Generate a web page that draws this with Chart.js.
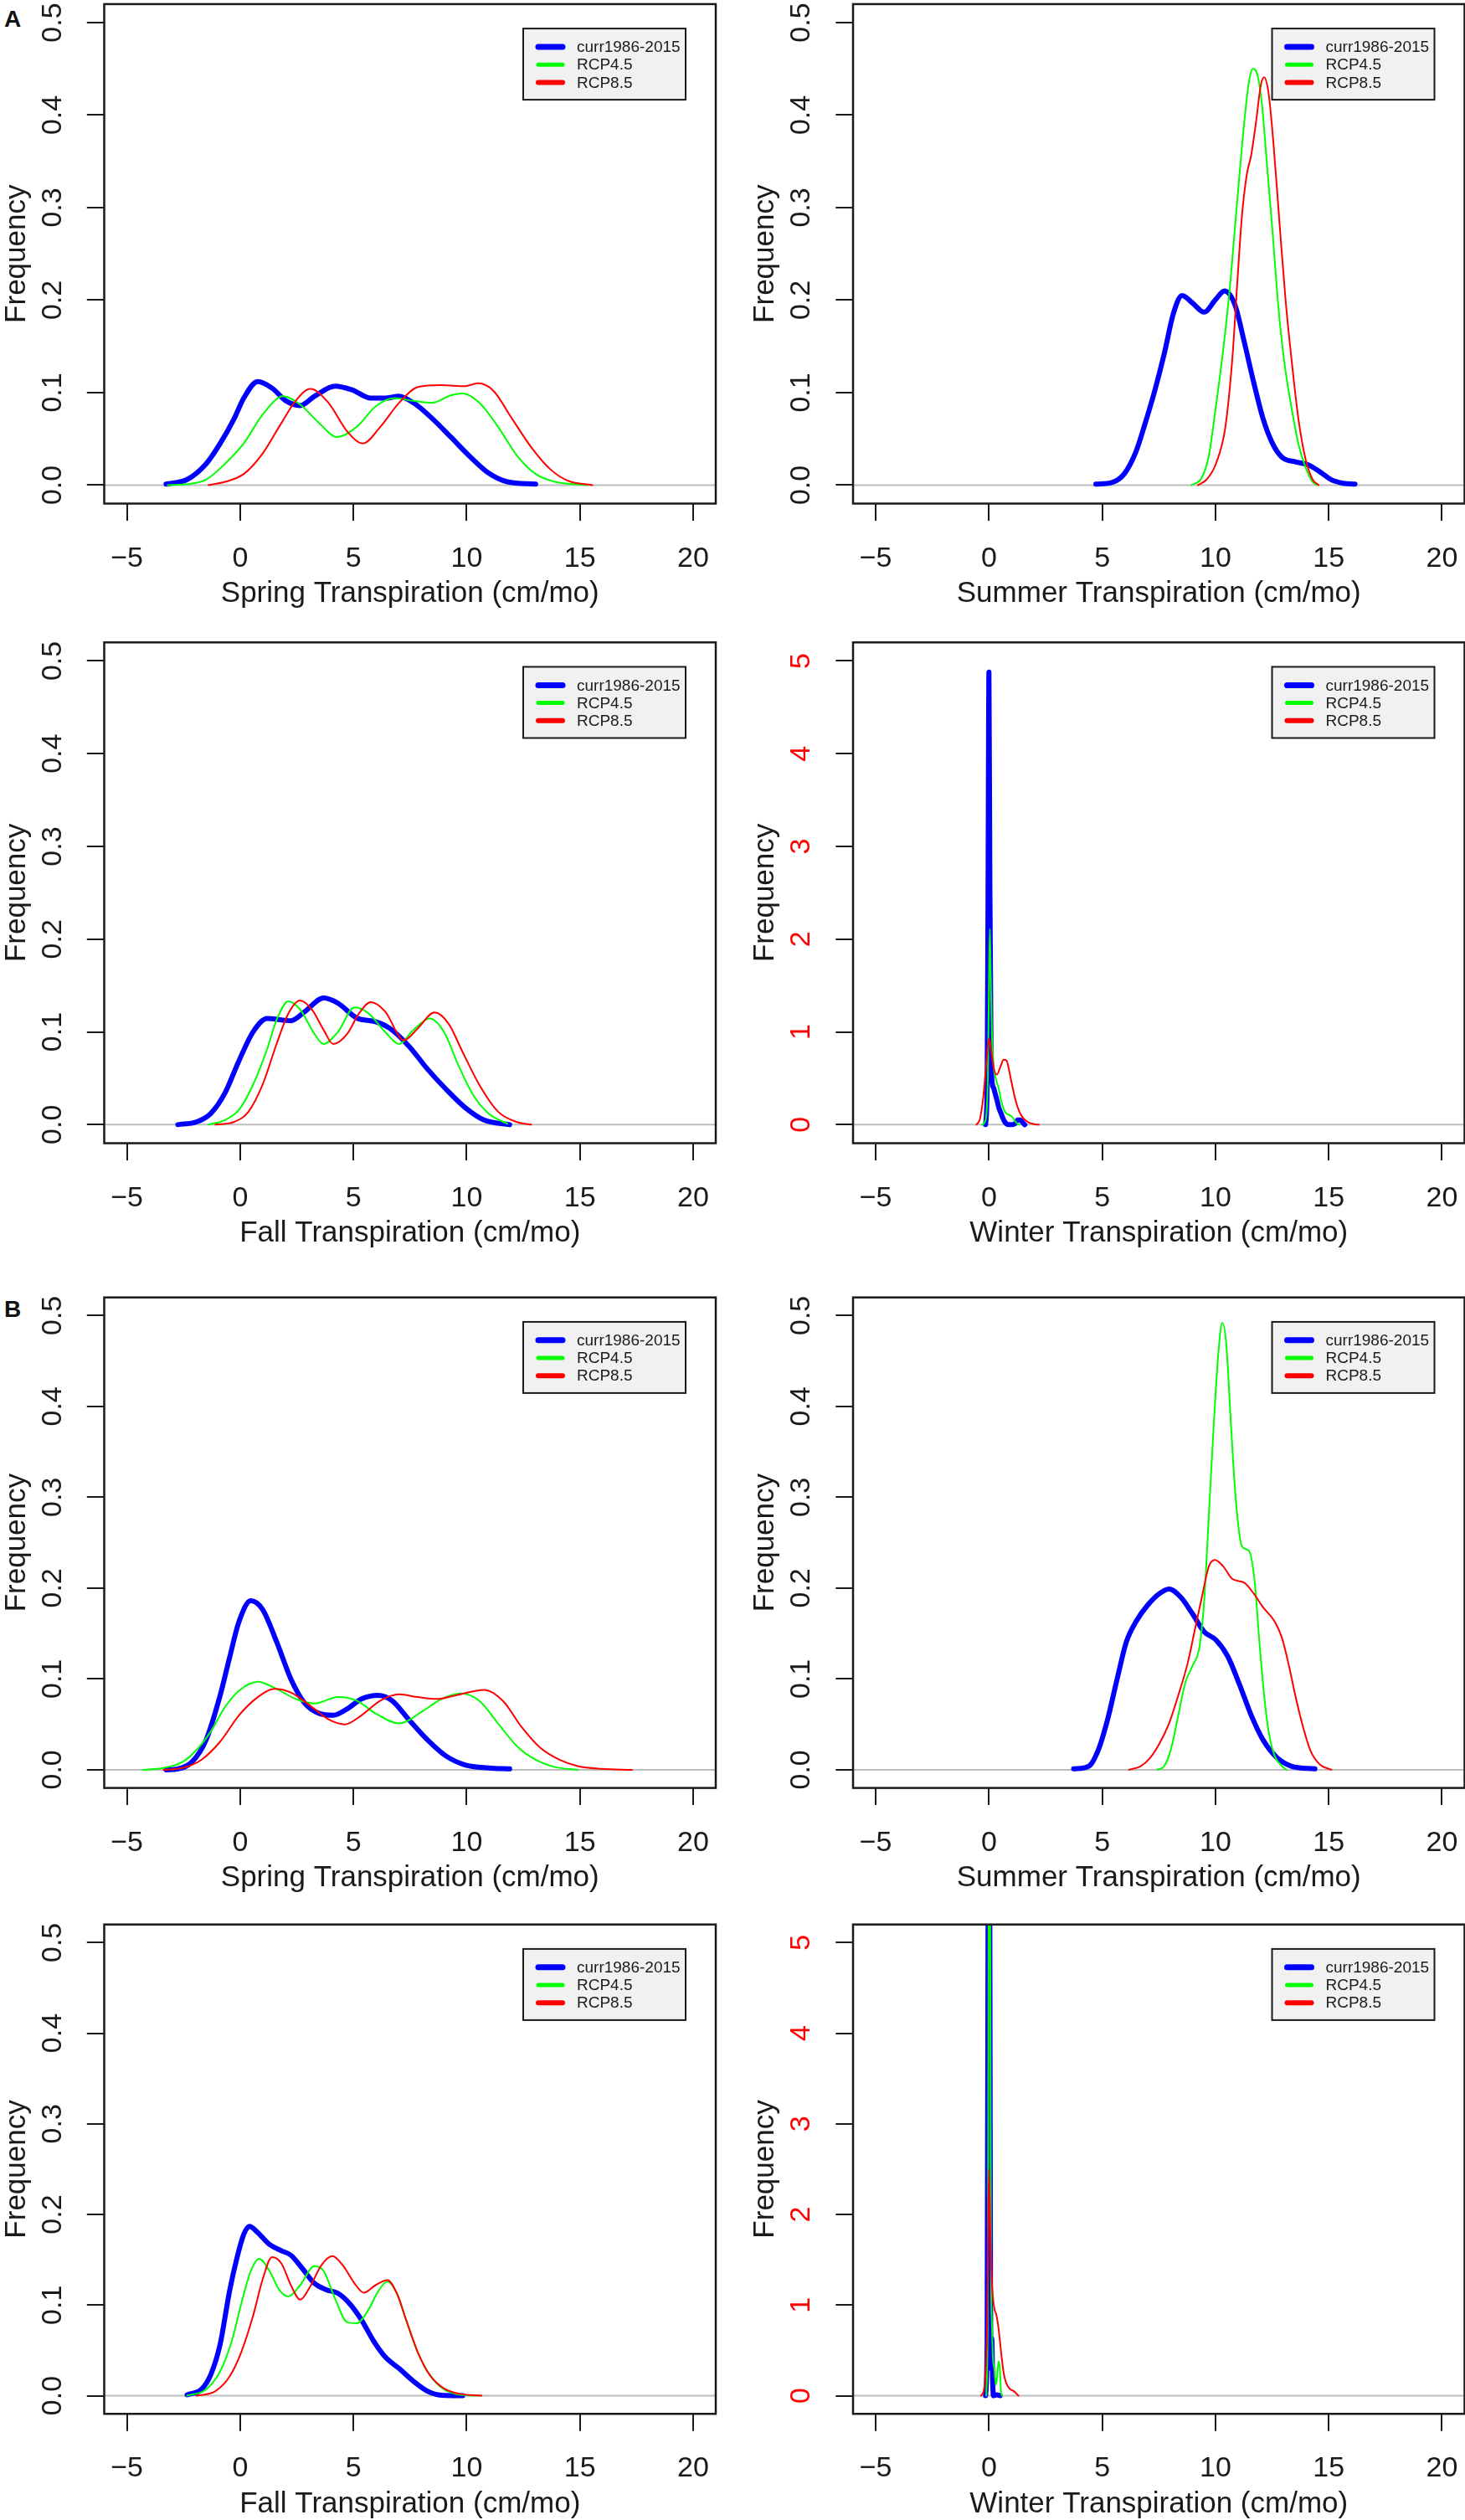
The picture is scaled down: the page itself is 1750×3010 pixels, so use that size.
<!DOCTYPE html>
<html>
<head>
<meta charset="utf-8">
<title>Seasonal transpiration density</title>
<script src="https://cdn.jsdelivr.net/npm/chart.js@4.4.0/dist/chart.umd.min.js"></script>
<style>
  html, body { margin: 0; padding: 0; background: #fff; overflow: hidden; }
  #page { position: relative; width: 1750px; height: 3010px; overflow: hidden; background: #fff; }
  #page canvas { position: absolute; }
  .tag { position: absolute; font: bold 28px "Liberation Sans", Arial, sans-serif; color: #111; }
</style>
</head>
<body>
<div id="page">
  <div class="tag" style="left:5px; top:7px">A</div>
  <div class="tag" style="left:5px; top:1548px">B</div>
</div>
<script>
// ---- data: [transpiration (cm/mo), density] ----
const aSpringCurr = [[-3.27,0.001],[-2.34,0.006],[-1.5,0.023],[-0.88,0.045],[-0.26,0.072],[0.16,0.094],[0.78,0.112],[1.4,0.105],[2.03,0.091],[2.65,0.086],[3.28,0.096],[4.2,0.107],[4.94,0.103],[5.77,0.094],[6.4,0.094],[7.0,0.096],[7.65,0.089],[8.48,0.072],[9.3,0.052],[10.1,0.032],[10.97,0.013],[11.8,0.0035],[13.05,0.001]];
const aSpringR45 = [[-3.2,0],[-2.34,0.001],[-1.5,0.006],[-0.67,0.023],[0.16,0.045],[0.99,0.076],[1.9,0.096],[2.65,0.087],[3.49,0.067],[4.28,0.052],[5.15,0.063],[5.98,0.085],[6.81,0.094],[7.65,0.091],[8.48,0.089],[9.3,0.097],[9.83,0.099],[10.56,0.089],[11.39,0.063],[12.22,0.032],[13.05,0.012],[13.9,0.0035],[15.3,0]];
const aSpringR85 = [[-1.4,0],[-0.67,0.0035],[0.16,0.012],[0.99,0.034],[1.82,0.067],[2.45,0.091],[3.1,0.104],[3.9,0.089],[4.73,0.058],[5.42,0.045],[6.19,0.063],[7.02,0.089],[7.85,0.106],[8.9,0.108],[9.93,0.107],[10.5,0.110],[11.18,0.102],[12.0,0.072],[12.85,0.041],[13.7,0.017],[14.5,0.0044],[15.55,0]];

const aSummerCurr = [[4.72,0.001],[5.45,0.003],[5.97,0.012],[6.49,0.036],[6.9,0.067],[7.32,0.102],[7.74,0.142],[8.15,0.186],[8.53,0.205],[8.98,0.197],[9.5,0.187],[10.02,0.201],[10.4,0.210],[10.86,0.195],[11.27,0.155],[11.69,0.111],[12.1,0.072],[12.52,0.045],[12.94,0.030],[13.56,0.025],[14.08,0.022],[14.6,0.0145],[15.12,0.0057],[15.64,0.002],[16.16,0.001]];
const aSummerR45 = [[8.94,0],[9.4,0.008],[9.71,0.032],[10.02,0.085],[10.34,0.146],[10.65,0.217],[10.86,0.278],[11.06,0.335],[11.27,0.392],[11.48,0.436],[11.65,0.450],[11.86,0.443],[12.06,0.410],[12.27,0.348],[12.52,0.274],[12.77,0.195],[13.04,0.133],[13.35,0.085],[13.66,0.045],[13.98,0.019],[14.29,0.0035],[14.5,0]];
const aSummerR85 = [[9.23,0],[9.61,0.006],[10.02,0.023],[10.44,0.063],[10.75,0.138],[10.96,0.217],[11.17,0.291],[11.38,0.335],[11.58,0.357],[11.79,0.392],[12.0,0.432],[12.15,0.441],[12.35,0.423],[12.56,0.370],[12.83,0.283],[13.1,0.199],[13.39,0.129],[13.66,0.072],[13.98,0.028],[14.29,0.006],[14.56,0]];

const aFallCurr = [[-2.75,0],[-1.92,0.003],[-1.3,0.012],[-0.67,0.034],[-0.05,0.069],[0.57,0.100],[1.2,0.1145],[1.82,0.113],[2.24,0.112],[2.86,0.122],[3.69,0.1366],[4.32,0.131],[5.15,0.115],[5.98,0.111],[6.6,0.104],[7.44,0.085],[8.27,0.060],[9.1,0.038],[9.93,0.0185],[10.77,0.005],[11.9,0]];
const aFallR45 = [[-1.4,0],[-0.67,0.005],[-0.05,0.016],[0.57,0.043],[1.2,0.082],[1.61,0.113],[2.13,0.133],[2.65,0.124],[3.28,0.098],[3.69,0.087],[4.32,0.100],[5.05,0.1264],[5.67,0.120],[6.4,0.100],[7.02,0.087],[7.65,0.102],[8.37,0.1145],[9.0,0.100],[9.62,0.065],[10.24,0.034],[10.97,0.012],[11.8,0.001]];
const aFallR85 = [[-1.09,0],[-0.26,0.003],[0.37,0.014],[0.99,0.043],[1.61,0.087],[2.13,0.120],[2.65,0.134],[3.17,0.124],[3.69,0.102],[4.11,0.087],[4.73,0.098],[5.25,0.120],[5.77,0.132],[6.4,0.122],[7.23,0.091],[7.85,0.104],[8.58,0.121],[9.2,0.109],[9.83,0.078],[10.56,0.043],[11.39,0.014],[12.2,0.003],[12.85,0]];

const aWinterCurr = [[-0.15,0],[-0.08,0.4],[-0.04,2.5],[0,4.88],[0.04,2.6],[0.09,0.9],[0.14,0.46],[0.2,0.4],[0.28,0.33],[0.36,0.26],[0.44,0.18],[0.52,0.13],[0.6,0.08],[0.7,0.03],[0.85,0],[1.0,0],[1.15,0.01],[1.27,0.05],[1.38,0.05],[1.5,0.02],[1.58,0]];
const aWinterR45 = [[-0.3,0],[-0.15,0.05],[-0.05,0.5],[0,1.5],[0.04,2.11],[0.08,1.6],[0.13,1.0],[0.2,0.65],[0.3,0.5],[0.42,0.4],[0.55,0.25],[0.7,0.14],[0.85,0.11],[1.0,0.09],[1.12,0.05],[1.25,0.01],[1.35,0]];
const aWinterR85 = [[-0.55,0],[-0.4,0.06],[-0.25,0.3],[-0.12,0.65],[0,0.93],[0.1,0.8],[0.22,0.6],[0.35,0.54],[0.5,0.62],[0.65,0.7],[0.78,0.69],[0.92,0.55],[1.08,0.36],[1.25,0.2],[1.45,0.09],[1.7,0.03],[2.0,0.005],[2.2,0]];

const bSpringCurr = [[-3.27,0],[-2.75,0.001],[-2.13,0.0085],[-1.5,0.033],[-0.88,0.082],[-0.47,0.123],[-0.05,0.163],[0.47,0.186],[0.99,0.1765],[1.61,0.141],[2.24,0.100],[2.86,0.073],[3.49,0.062],[4.11,0.060],[4.73,0.067],[5.36,0.078],[6.09,0.082],[6.71,0.076],[7.44,0.0555],[8.27,0.033],[9.1,0.015],[9.93,0.0054],[10.97,0.002],[11.9,0.001]];
const bSpringR45 = [[-4.31,0],[-3.38,0.002],[-2.55,0.0085],[-1.92,0.022],[-1.3,0.042],[-0.67,0.069],[-0.05,0.087],[0.78,0.097],[1.61,0.089],[2.45,0.078],[3.28,0.073],[4.32,0.080],[5.15,0.076],[5.98,0.062],[7.02,0.051],[8.06,0.0645],[8.9,0.078],[9.73,0.084],[10.56,0.076],[11.39,0.051],[12.22,0.026],[13.05,0.011],[13.9,0.003],[14.9,0]];
const bSpringR85 = [[-3.38,0],[-2.55,0.002],[-1.71,0.011],[-0.88,0.031],[-0.05,0.060],[0.78,0.080],[1.51,0.089],[2.24,0.085],[3.07,0.071],[3.9,0.0555],[4.63,0.050],[5.36,0.060],[6.19,0.076],[7.02,0.083],[7.85,0.080],[8.69,0.078],[9.52,0.082],[10.77,0.088],[11.6,0.076],[12.43,0.047],[13.26,0.024],[14.1,0.011],[14.9,0.004],[15.96,0.001],[17.3,0]];

const bSummerCurr = [[3.74,0.001],[4.41,0.004],[4.83,0.022],[5.24,0.0555],[5.66,0.100],[6.07,0.141],[6.49,0.163],[7.0,0.181],[7.53,0.194],[7.95,0.199],[8.47,0.190],[8.98,0.172],[9.5,0.152],[10.02,0.143],[10.54,0.125],[11.06,0.094],[11.58,0.060],[12.1,0.033],[12.73,0.013],[13.35,0.004],[14.39,0.001]];
const bSummerR45 = [[7.43,0],[7.74,0.004],[8.05,0.024],[8.36,0.060],[8.67,0.096],[8.98,0.114],[9.3,0.136],[9.5,0.185],[9.71,0.280],[9.92,0.378],[10.13,0.459],[10.3,0.492],[10.48,0.468],[10.69,0.378],[10.9,0.297],[11.17,0.246],[11.48,0.241],[11.73,0.208],[11.94,0.141],[12.15,0.082],[12.35,0.042],[12.62,0.015],[12.94,0.004],[13.14,0]];
const bSummerR85 = [[6.18,0],[6.7,0.004],[7.11,0.013],[7.53,0.029],[7.95,0.051],[8.36,0.082],[8.78,0.118],[9.09,0.154],[9.4,0.190],[9.71,0.224],[9.98,0.231],[10.34,0.224],[10.75,0.210],[11.27,0.206],[11.69,0.194],[12.1,0.179],[12.62,0.163],[12.94,0.145],[13.25,0.114],[13.56,0.078],[13.87,0.047],[14.18,0.022],[14.6,0.006],[15.12,0]];

const bFallCurr = [[-2.34,0.001],[-1.71,0.007],[-1.3,0.023],[-0.88,0.057],[-0.47,0.115],[-0.15,0.151],[0.16,0.178],[0.41,0.187],[0.78,0.180],[1.3,0.167],[1.82,0.160],[2.24,0.155],[2.76,0.140],[3.28,0.124],[3.8,0.117],[4.32,0.113],[4.84,0.1015],[5.36,0.0836],[5.88,0.061],[6.4,0.043],[7.02,0.030],[7.65,0.016],[8.27,0.005],[8.9,0.0005],[9.83,0]];
const bFallR45 = [[-2.34,0],[-1.5,0.007],[-0.88,0.027],[-0.36,0.061],[0.05,0.1015],[0.47,0.1375],[0.84,0.151],[1.3,0.1375],[1.72,0.117],[2.13,0.1096],[2.65,0.122],[3.28,0.143],[3.69,0.1375],[4.21,0.106],[4.73,0.081],[5.15,0.080],[5.67,0.095],[6.09,0.115],[6.5,0.126],[6.92,0.113],[7.33,0.0836],[7.85,0.0476],[8.37,0.023],[9.0,0.007],[9.73,0.001],[10.56,0]];
const bFallR85 = [[-1.92,0],[-1.09,0.005],[-0.47,0.021],[0.05,0.048],[0.57,0.088],[0.99,0.128],[1.41,0.153],[1.82,0.146],[2.24,0.122],[2.65,0.106],[3.07,0.1195],[3.59,0.144],[4.07,0.154],[4.53,0.144],[5.05,0.124],[5.46,0.1137],[5.98,0.122],[6.5,0.1276],[6.92,0.113],[7.33,0.0836],[7.85,0.0476],[8.37,0.023],[9.0,0.008],[9.73,0.002],[10.66,0]];

const bWinterCurr = [[-0.15,0],[-0.08,0.6],[-0.03,6.5],[0,9],[0.03,6.5],[0.07,1.2],[0.1,0.3],[0.13,0.63],[0.16,0.2],[0.2,0],[0.35,0.01],[0.5,0]];
const bWinterR45 = [[-0.12,0],[-0.05,1.0],[-0.01,6],[0.02,9],[0.05,6],[0.09,1.5],[0.13,0.8],[0.18,0.4],[0.24,0.3],[0.3,0.12],[0.36,0.2],[0.42,0.38],[0.48,0.3],[0.53,0.05],[0.58,0]];
const bWinterR85 = [[-0.35,0],[-0.2,0.1],[-0.08,0.8],[0,2.5],[0.06,1.8],[0.14,1.2],[0.25,0.95],[0.32,0.9],[0.42,0.75],[0.55,0.45],[0.65,0.25],[0.75,0.15],[0.9,0.08],[1.1,0.05],[1.3,0]];

const seriesNames = ['curr1986-2015', 'RCP4.5', 'RCP8.5'];
const xTicks = [-5, 0, 5, 10, 15, 20];
const freqTicks = [0, 0.1, 0.2, 0.3, 0.4, 0.5];
const winterTicks = [0, 1, 2, 3, 4, 5];

// ---- styles and layout ----
const FONT = '"Liberation Sans", Arial, Helvetica, sans-serif';
const INK = '#1a1a1a';
const seriesColors = ['#0000ff', '#00ff00', '#ff0000'];
const lineWidths = [6, 2, 2];
const legendWidths = [7, 5, 6];

// [box top, box bottom] of each row, page pixels
const rowBoxes = [[4.9, 601.5], [767.3, 1365.5], [1549.7, 2135.6], [2298.7, 2883.2]];
const cols = [{left: 0, width: 875, axisW: 124.5}, {left: 894, width: 856, axisW: 125}];
const PLOT_W = 730.5;
const X_AXIS_H = 135;

const panels = [
  {label: 'Spring Transpiration (cm/mo)', series: [aSpringCurr, aSpringR45, aSpringR85], row: 0, col: 0},
  {label: 'Summer Transpiration (cm/mo)', series: [aSummerCurr, aSummerR45, aSummerR85], row: 0, col: 1},
  {label: 'Fall Transpiration (cm/mo)', series: [aFallCurr, aFallR45, aFallR85], row: 1, col: 0},
  {label: 'Winter Transpiration (cm/mo)', series: [aWinterCurr, aWinterR45, aWinterR85], row: 1, col: 1, winter: true},
  {label: 'Spring Transpiration (cm/mo)', series: [bSpringCurr, bSpringR45, bSpringR85], row: 2, col: 0},
  {label: 'Summer Transpiration (cm/mo)', series: [bSummerCurr, bSummerR45, bSummerR85], row: 2, col: 1},
  {label: 'Fall Transpiration (cm/mo)', series: [bFallCurr, bFallR45, bFallR85], row: 3, col: 0},
  {label: 'Winter Transpiration (cm/mo)', series: [bWinterCurr, bWinterR45, bWinterR85], row: 3, col: 1, winter: true}
];

Chart.defaults.font.family = FONT;

// box round the plot region
const frame = {
  id: 'frame',
  afterDatasetsDraw(chart) {
    const {ctx, chartArea: a} = chart;
    ctx.save();
    ctx.strokeStyle = INK;
    ctx.lineWidth = 2.5;
    ctx.strokeRect(a.left, a.top, a.right - a.left, a.bottom - a.top);
    ctx.restore();
  }
};

// R style legend box in the top right corner
const boxLegend = {
  id: 'boxLegend',
  afterDraw(chart) {
    const {ctx, chartArea: a} = chart;
    const w = 194, h = 85;
    const left = a.right - 36 - w;
    const top = a.top + 29.2;
    ctx.save();
    ctx.fillStyle = '#f1f1f1';
    ctx.fillRect(left, top, w, h);
    ctx.strokeStyle = INK;
    ctx.lineWidth = 2;
    ctx.strokeRect(left, top, w, h);
    ctx.font = '19px ' + FONT;
    ctx.textBaseline = 'middle';
    chart.data.datasets.filter(d => d.label).forEach((d, i) => {
      const y = top + 21.9 + i * 21.2;
      ctx.strokeStyle = d.borderColor;
      ctx.lineWidth = d.legendWidth;
      ctx.lineCap = 'round';
      ctx.beginPath();
      ctx.moveTo(left + 18, y);
      ctx.lineTo(left + 47, y);
      ctx.stroke();
      ctx.fillStyle = INK;
      ctx.fillText(d.label, left + 64, y + 1);
    });
    ctx.restore();
  }
};

const page = document.getElementById('page');

panels.forEach(p => {
  const [boxTop, boxBottom] = rowBoxes[p.row];
  const c = cols[p.col];
  const boxH = boxBottom - boxTop;
  const canvasTop = Math.floor(boxTop - 5);
  const padTop = boxTop - canvasTop;
  const height = Math.ceil(padTop + boxH + X_AXIS_H);
  const padBottom = height - padTop - boxH - X_AXIS_H;

  const canvas = document.createElement('canvas');
  canvas.width = c.width;
  canvas.height = height;
  canvas.style.left = c.left + 'px';
  canvas.style.top = canvasTop + 'px';
  canvas.style.width = c.width + 'px';
  canvas.style.height = height + 'px';
  page.appendChild(canvas);

  const datasets = p.series.map((pts, i) => ({
    label: seriesNames[i],
    data: pts.map(([x, y]) => ({x, y})),
    borderColor: seriesColors[i],
    borderWidth: lineWidths[i],
    legendWidth: legendWidths[i],
    order: 3 - i
  }));
  // grey zero line under the curves
  datasets.push({label: '', data: [{x: -6, y: 0}, {x: 21, y: 0}], borderColor: '#bdbdbd', borderWidth: 2, order: 10});

  const yTicks = p.winter ? winterTicks : freqTicks;

  new Chart(canvas, {
    type: 'line',
    data: {datasets},
    options: {
      responsive: false,
      animation: false,
      devicePixelRatio: 1,
      layout: {padding: {left: 0, top: padTop, right: c.width - c.axisW - PLOT_W, bottom: padBottom}},
      elements: {
        point: {radius: 0},
        line: {fill: false, cubicInterpolationMode: 'monotone', borderCapStyle: 'round', borderJoinStyle: 'round'}
      },
      datasets: {line: {clip: 0}},
      plugins: {legend: {display: false}, tooltip: {enabled: false}},
      scales: {
        x: {
          type: 'linear',
          min: -6,
          max: 21,
          afterBuildTicks: s => { s.ticks = xTicks.map(v => ({value: v})); },
          afterFit: s => { s.height = X_AXIS_H; s.paddingLeft = 0; s.paddingRight = 0; },
          grid: {drawOnChartArea: false, tickLength: 20.5, color: INK, lineWidth: 2},
          border: {display: false},
          ticks: {
            font: {size: 34},
            color: INK,
            padding: 24.9,
            maxRotation: 0,
            autoSkip: false,
            callback: v => String(v).replace('-', '\u2212')
          },
          title: {display: true, text: p.label, color: INK, font: {size: 35, lineHeight: 1.2}, padding: {top: 0, bottom: 6}}
        },
        y: {
          type: 'linear',
          min: p.winter ? -0.2 : -0.02,
          max: p.winter ? 5.2 : 0.52,
          afterBuildTicks: s => { s.ticks = yTicks.map(v => ({value: v})); },
          afterFit: s => { s.width = c.axisW; s.paddingTop = 0; s.paddingBottom = 0; },
          grid: {drawOnChartArea: false, tickLength: 20.7, color: INK, lineWidth: 2},
          border: {display: false},
          ticks: {
            font: {size: 34},
            color: p.winter ? '#ff0000' : INK,
            padding: p.winter ? 30.8 : 16.7,
            minRotation: 90,
            maxRotation: 90,
            crossAlign: 'center',
            autoSkip: false,
            callback: v => p.winter ? String(v) : v.toFixed(1)
          },
          title: {display: true, text: 'Frequency', color: INK, font: {size: 35, lineHeight: 1.14}, padding: {top: 0, bottom: 0}}
        }
      }
    },
    plugins: [frame, boxLegend]
  });
});
</script>
</body>
</html>
